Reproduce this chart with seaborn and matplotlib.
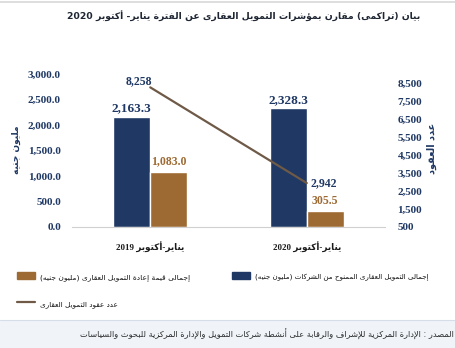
import re
import numpy as np
import pandas as pd
import matplotlib
matplotlib.use("Agg")
import matplotlib.pyplot as plt
import seaborn as sns
from matplotlib.patches import Patch, Rectangle
from matplotlib.lines import Line2D

# ---------------- data ----------------
periods = ["يناير-أكتوبر 2019", "يناير-أكتوبر 2020"]
financing_granted = [2163.3, 2328.3]      # million EGP (left axis)
refinancing_value = [1083.0, 305.5]       # million EGP (left axis)
contracts_count = [8258, 2942]            # number of contracts (right axis)
series_names = [
    "إجمالى التمويل العقارى الممنوح من الشركات (مليون جنيه)",
    "إجمالى قيمة إعادة التمويل العقارى (مليون جنيه)",
    "عدد عقود التمويل العقارى",
]
left_ticks = [0, 500, 1000, 1500, 2000, 2500, 3000]
right_ticks = [500, 1500, 2500, 3500, 4500, 5500, 6500, 7500, 8500]
title_text = "بيان (تراكمى) مقارن بمؤشرات التمويل العقارى عن الفترة يناير- أكتوبر 2020"
left_label = "مليون جنيه"
right_label = "عدد العقود"
source_text = ("المصدر : الإدارة المركزية للإشراف والرقابة على أنشطة شركات التمويل "
               "والإدارة المركزية للبحوث والسياسات")

NAVY = "#1f3864"
BROWN = "#9e6a33"
LINE = "#6e5a47"

# ---------------- minimal Arabic shaping + visual ordering ----------------
_RJ = {"\u0622": 0xFE81, "\u0623": 0xFE83, "\u0624": 0xFE85, "\u0625": 0xFE87,
       "\u0627": 0xFE8D, "\u0629": 0xFE93, "\u062F": 0xFEA9, "\u0630": 0xFEAB,
       "\u0631": 0xFEAD, "\u0632": 0xFEAF, "\u0648": 0xFEED, "\u0649": 0xFEEF}
_DJ = {"\u0626": 0xFE89, "\u0628": 0xFE8F, "\u062A": 0xFE95, "\u062B": 0xFE99,
       "\u062C": 0xFE9D, "\u062D": 0xFEA1, "\u062E": 0xFEA5, "\u0633": 0xFEB1,
       "\u0634": 0xFEB5, "\u0635": 0xFEB9, "\u0636": 0xFEBD, "\u0637": 0xFEC1,
       "\u0638": 0xFEC5, "\u0639": 0xFEC9, "\u063A": 0xFECD, "\u0641": 0xFED1,
       "\u0642": 0xFED5, "\u0643": 0xFED9, "\u0644": 0xFEDD, "\u0645": 0xFEE1,
       "\u0646": 0xFEE5, "\u0647": 0xFEE9, "\u064A": 0xFEF1}
_NJ = {"\u0621": 0xFE80}
_LAMALEF = {"\u0622": 0xFEF5, "\u0623": 0xFEF7, "\u0625": 0xFEF9, "\u0627": 0xFEFB}


def _shape(s):
    units = []
    i = 0
    while i < len(s):
        c = s[i]
        if c == "\u0644" and i + 1 < len(s) and s[i + 1] in _LAMALEF:
            units.append(("R", _LAMALEF[s[i + 1]]))
            i += 2
            continue
        if c in _DJ:
            units.append(("D", _DJ[c]))
        elif c in _RJ:
            units.append(("R", _RJ[c]))
        elif c in _NJ:
            units.append(("U", _NJ[c]))
        else:
            units.append(("X", c))
        i += 1
    out = []
    for k, (kind, val) in enumerate(units):
        if kind == "X":
            out.append(val)
            continue
        if kind == "U":
            out.append(chr(val))
            continue
        prev = k > 0 and units[k - 1][0] == "D"
        nxt = kind == "D" and k + 1 < len(units) and units[k + 1][0] in ("D", "R")
        if kind == "D":
            if prev and nxt:
                out.append(chr(val + 3))
            elif prev:
                out.append(chr(val + 1))
            elif nxt:
                out.append(chr(val + 2))
            else:
                out.append(chr(val))
        else:
            out.append(chr(val + 1) if prev else chr(val))
    return "".join(out)


_MIRROR = {"(": ")", ")": "("}


def ar(s):
    shaped = _shape(s)
    tokens = re.findall(r"[0-9A-Za-z][0-9A-Za-z.,%]*|[^0-9A-Za-z]+", shaped)
    vis = []
    for t in reversed(tokens):
        if re.match(r"[0-9A-Za-z]", t):
            vis.append(t)
        else:
            vis.append("".join(_MIRROR.get(ch, ch) for ch in reversed(t)))
    return "".join(vis)


# ---------------- figure ----------------
sns.set_theme(style="white")
plt.rcParams["font.family"] = ["DejaVu Sans"]
SERIF = ["Liberation Serif", "DejaVu Sans"]

fig = plt.figure(figsize=(4.56, 3.48), dpi=100)
fig.patch.set_facecolor("white")

ax = fig.add_axes([72 / 456, 1 - 227 / 348, (385 - 72) / 456, (227 - 74) / 348])

df = pd.DataFrame({
    "period": periods * 2,
    "value": financing_granted + refinancing_value,
    "series": [series_names[0]] * len(periods) + [series_names[1]] * len(periods),
})
sns.barplot(data=df, x="period", y="value", hue="series", order=periods,
            hue_order=series_names[:2], palette=[NAVY, BROWN], width=0.474,
            saturation=1, errorbar=None, legend=False, ax=ax)

ax.set_xlim(-0.5, 1.5)
ax.set_ylim(0, 3000)
ax.set_yticks(left_ticks)
ax.set_yticklabels([f"{v:,.1f}" for v in left_ticks], family=SERIF,
                   fontweight="bold", fontsize=8, color=NAVY)
ax.set_xticks(range(len(periods)))
ax.set_xticklabels([ar(p) for p in periods], family=SERIF, fontweight="bold",
                   fontsize=8, color="#1a1a1a")
ax.tick_params(axis="y", length=0, pad=8)
ax.tick_params(axis="x", length=0, pad=10)
ax.set_xlabel("")
ax.set_ylabel("")
for side in ["top", "left", "right"]:
    ax.spines[side].set_visible(False)
ax.spines["bottom"].set_color("#d0d0d0")
ax.spines["bottom"].set_linewidth(0.8)
ax.grid(False)

# bar labels
ax.bar_label(ax.containers[0], labels=[f"{v:,.1f}" for v in financing_granted],
             padding=1.5, family=SERIF, fontweight="bold", fontsize=9.5, color=NAVY)
ax.bar_label(ax.containers[1], labels=[f"{v:,.1f}" for v in refinancing_value],
             padding=3, family=SERIF, fontweight="bold", fontsize=8.5, color=BROWN)

# secondary axis with contracts line
ax2 = ax.twinx()
sns.lineplot(x=periods, y=contracts_count, sort=False, color=LINE,
             linewidth=1.6, ax=ax2)
ax2.set_ylim(500, 9000)
ax2.set_yticks(right_ticks)
ax2.set_yticklabels([f"{v:,}" for v in right_ticks], family=SERIF,
                    fontweight="bold", fontsize=8, color=NAVY)
ax2.tick_params(axis="y", length=0, pad=9)
ax2.set_ylabel("")
for side in ["top", "left", "right", "bottom"]:
    ax2.spines[side].set_visible(False)
ax2.grid(False)

offsets = [(-8, 4.5), (12, 0)]
for i, v in enumerate(contracts_count):
    ax2.annotate(f"{v:,}", xy=(i, v), xytext=offsets[i], textcoords="offset points",
                 ha="center", va="center", family=SERIF, fontweight="bold",
                 fontsize=8.5, color=NAVY)

# axis titles (rotated)
fig.text(16 / 456, 1 - 150 / 348, ar(left_label), rotation=90, ha="center",
         va="center", fontsize=6.5, fontweight="bold", color=NAVY)
fig.text(432 / 456, 1 - 148 / 348, ar(right_label), rotation=90, ha="center",
         va="center", fontsize=7, fontweight="bold", color=NAVY)

# title
title_artist = fig.text(420 / 456, 1 - 16 / 348, ar(title_text), ha="right",
                        va="center", fontsize=10, fontweight="bold",
                        color="#1e2633")

# top rule
fig.add_artist(Line2D([0, 1], [1 - 1.5 / 348, 1 - 1.5 / 348], color="#d8d8d8",
                      lw=1.2, transform=fig.transFigure))

# legends
h_blue = Patch(facecolor=NAVY, edgecolor=NAVY)
h_brown = Patch(facecolor=BROWN, edgecolor=BROWN)
h_line = Line2D([], [], color=LINE, lw=1.6)
leg_kw = dict(loc="upper left", frameon=False, fontsize=7, handlelength=1.9,
              handleheight=0.8, handletextpad=0.5, borderaxespad=0, borderpad=0,
              labelcolor="#111111")
leg1 = fig.legend([h_brown, h_line], [ar(series_names[1]), ar(series_names[2])],
                  bbox_to_anchor=(17 / 456, 1 - 272 / 348), labelspacing=1.85,
                  **leg_kw)
leg2 = fig.legend([h_blue], [ar(series_names[0])],
                  bbox_to_anchor=(232 / 456, 1 - 272 / 348), **leg_kw)

# source band
fig.add_artist(Rectangle((0, 0), 1, 28 / 348, transform=fig.transFigure,
                         facecolor="#f0f4f9", edgecolor="none", zorder=0))
fig.add_artist(Line2D([0, 1], [28 / 348, 28 / 348], color="#d5dde8", lw=0.8,
                      transform=fig.transFigure))
source_artist = fig.text(454 / 456, 14 / 348, ar(source_text), ha="right",
                         va="center", fontsize=6.5, color="#2b2b2b")

# ---- fit text widths to the reference's measured extents (pixels) ----
renderer = fig.canvas.get_renderer()


def fit_width(artist, target_px):
    w = artist.get_window_extent(renderer).width
    if w > 0:
        artist.set_fontsize(artist.get_fontsize() * target_px / w)


fit_width(title_artist, 358)
fit_width(source_artist, 374)
for lab in ax.get_xticklabels():
    fit_width(lab, 68)
t1 = leg1.get_texts()
fit_width(t1[0], 150)
fit_width(t1[1], 78)
fit_width(leg2.get_texts()[0], 175)

fig.savefig("out.png", dpi=100)
